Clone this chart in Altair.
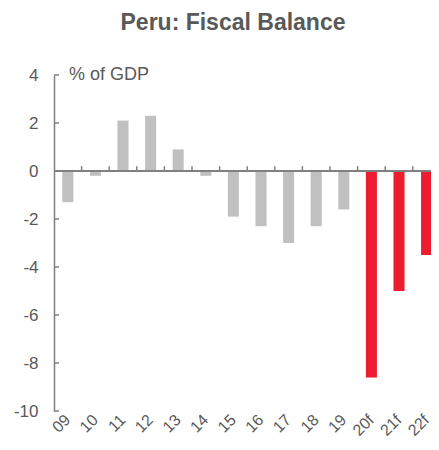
import altair as alt
import pandas as pd

categories = ["09", "10", "11", "12", "13", "14", "15", "16", "17", "18", "19", "20f", "21f", "22f"]
values = [-1.3, -0.2, 2.1, 2.3, 0.9, -0.2, -1.9, -2.3, -3.0, -2.3, -1.6, -8.6, -5.0, -3.5]
kinds = ["Actual"] * 11 + ["Forecast"] * 3
y_ticks = [-10, -8, -6, -4, -2, 0, 2, 4]

df = pd.DataFrame({"year": categories, "value": values, "kind": kinds})
ticks_df = pd.DataFrame({"t": y_ticks})

FONT = "Liberation Sans"
GREY_TXT = "#595959"
AXIS = "#808080"

STEP = 27.6
xscale = alt.Scale(domain=categories, paddingInner=0.6, paddingOuter=0.3,
                   range=[0, STEP * len(categories)])
yscale = alt.Scale(domain=[-10, 4], nice=False, zero=False)

base = alt.Chart(df)

bars = base.mark_bar().encode(
    x=alt.X("year:N", scale=xscale, sort=categories,
            axis=alt.Axis(title=None, labelAngle=-45, labelAlign="right", labelBaseline="middle",
                          labelFont=FONT, labelFontSize=16, labelColor=GREY_TXT,
                          domain=False, ticks=False, labelPadding=6)),
    y=alt.Y("value:Q", scale=yscale,
            axis=alt.Axis(title=None, values=y_ticks, labelFont=FONT, labelFontSize=17,
                          labelColor=GREY_TXT, ticks=False, labelPadding=16, grid=False,
                          labelExpr="'' + datum.value",
                          domainColor=AXIS, domainWidth=1.5)),
    color=alt.Color("kind:N", scale=alt.Scale(domain=["Actual", "Forecast"],
                                               range=["#c0c0c0", "#ed1c2e"]), legend=None),
)

zero = base.mark_rule(color=AXIS, strokeWidth=1.5).encode(y=alt.datum(0))

xticks = base.mark_rule(color=AXIS, strokeWidth=1.5, xOffset=STEP / 2).encode(
    x=alt.X("year:N", scale=xscale, sort=categories),
    y=alt.datum(0), y2=alt.datum(0.2))

yticks = alt.Chart(ticks_df).mark_rule(color=AXIS, strokeWidth=1.5).encode(
    y=alt.Y("t:Q", scale=yscale), x=alt.value(0), x2=alt.value(5))

unit = alt.Chart(pd.DataFrame({"u": ["% of GDP"]})).mark_text(
    align="left", baseline="middle", font=FONT, fontSize=18, color=GREY_TXT
).encode(x=alt.value(15), y=alt.datum(4), text="u:N")

chart = alt.layer(bars, zero, xticks, yticks, unit).properties(
    width=377, height=336,
    autosize=alt.AutoSizeParams(type="none"),
    padding={"left": 46, "top": 67, "right": 0, "bottom": 31},
    title=alt.TitleParams("Peru: Fiscal Balance", font=FONT, fontSize=23, fontWeight="bold",
                          color=GREY_TXT, anchor="middle", dx=-9.5, offset=31),
).configure_view(stroke=None)

chart.save("out.html", embed_options={"renderer": "svg", "actions": False})
